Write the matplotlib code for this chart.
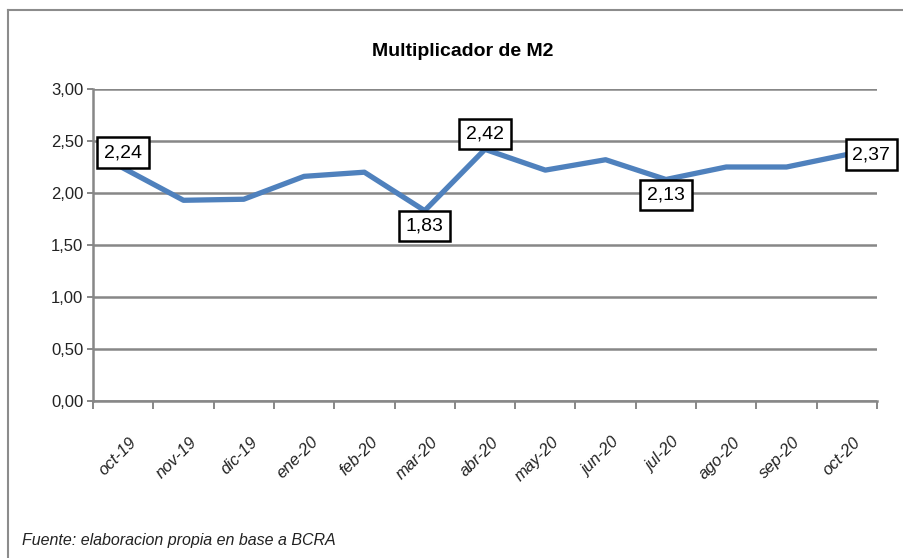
import numpy as np
import matplotlib
matplotlib.use("Agg")
import matplotlib.pyplot as plt
from matplotlib.transforms import ScaledTranslation

plt.rcParams['font.family'] = ['Liberation Sans', 'DejaVu Sans']

# data
meses = ['oct-19', 'nov-19', 'dic-19', 'ene-20', 'feb-20', 'mar-20', 'abr-20',
         'may-20', 'jun-20', 'jul-20', 'ago-20', 'sep-20', 'oct-20']
multiplicador = [2.24, 1.93, 1.94, 2.16, 2.20, 1.83, 2.42,
                 2.22, 2.32, 2.13, 2.25, 2.25, 2.37]
# which points carry a boxed label and where it sits
etiquetas = {0: 'above', 5: 'below', 6: 'above', 9: 'below', 12: 'right'}

def coma(v):
    return f"{v:.2f}".replace('.', ',')

fig = plt.figure(figsize=(9.04, 5.58), dpi=100)
ax = fig.add_axes([93/904, 1 - 401/558, (877 - 93)/904, (401 - 89)/558])

x = np.arange(len(meses))
ax.plot(x, multiplicador, color='#4F81BD', lw=3.8, zorder=3)

grid_c = '#878787'
ax.set_ylim(0, 3)
ax.set_xlim(-0.5, len(meses) - 0.5)
ax.set_yticks(np.arange(0, 3.01, 0.5))
ax.set_yticklabels([coma(v) for v in np.arange(0, 3.01, 0.5)], fontsize=12,
                   color='#222222')
ax.yaxis.grid(True, color=grid_c, lw=1.8)
ax.set_axisbelow(True)

ax.set_xticks(x)
ax.set_xticklabels(meses, rotation=45, ha='right', rotation_mode='anchor',
                   fontsize=12, style='italic', color='#222222')
ax.tick_params(axis='x', which='major', length=0, pad=24)
shift = ScaledTranslation(6/100, 0, fig.dpi_scale_trans)
for lbl in ax.get_xticklabels():
    lbl.set_transform(lbl.get_transform() + shift)
ax.set_xticks(np.arange(-0.5, len(meses), 1), minor=True)
ax.tick_params(axis='x', which='minor', length=6, color=grid_c, width=1.4)
ax.tick_params(axis='y', length=4, color=grid_c, width=1.4, pad=3)

for s in ['top', 'right']:
    ax.spines[s].set_visible(False)
for s in ['left', 'bottom']:
    ax.spines[s].set_color(grid_c)
    ax.spines[s].set_linewidth(1.8)

box = dict(boxstyle='square,pad=0.35', fc='white', ec='black', lw=1.8)
for i, pos in etiquetas.items():
    v = multiplicador[i]
    if pos == 'above':
        ax.annotate(coma(v), (i, v), xytext=(0, 5), textcoords='offset points',
                    ha='center', va='bottom', fontsize=14, bbox=box, zorder=5)
    elif pos == 'below':
        ax.annotate(coma(v), (i, v), xytext=(0, -5), textcoords='offset points',
                    ha='center', va='top', fontsize=14, bbox=box, zorder=5)
    else:
        ax.annotate(coma(v), (i, v), xytext=(4, 0), textcoords='offset points',
                    ha='left', va='center', fontsize=14, bbox=box, zorder=5)

fig.text(463/904, 1 - 52/558, 'Multiplicador de M2', ha='center', va='center',
         fontsize=14, fontweight='bold')
fig.text(22/904, 1 - 540/558, 'Fuente: elaboracion propia en base a BCRA',
         ha='left', va='center', fontsize=11.5, style='italic', color='#222222')

# outer chart border (top and left visible in the reference)
fig.add_artist(plt.Line2D([8/904, 1], [1 - 10/558, 1 - 10/558], color='#8C8C8C', lw=1.5))
fig.add_artist(plt.Line2D([8/904, 8/904], [0, 1 - 10/558], color='#8C8C8C', lw=1.5))

fig.savefig('out.png', dpi=100)
